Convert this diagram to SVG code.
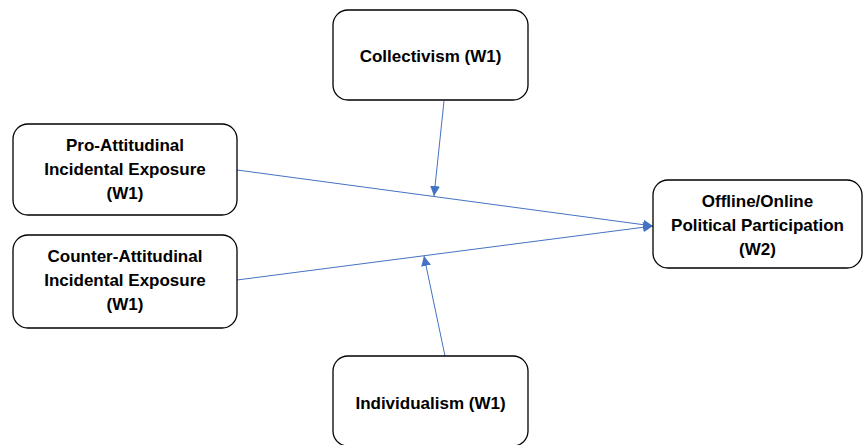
<svg xmlns="http://www.w3.org/2000/svg" width="865" height="445" viewBox="0 0 865 445">
<style>
.box{fill:#fff;stroke:#000;stroke-width:1.3}
.t{font-family:"Liberation Sans",Arial,sans-serif;font-weight:bold;font-size:17px;fill:#000;text-anchor:middle}
.c{stroke:#4472C4;stroke-width:1;fill:none;marker-end:url(#ah)}
</style>
<defs>
<marker id="ah" viewBox="0 0 10 10" refX="10" refY="5" markerWidth="10" markerHeight="10" markerUnits="userSpaceOnUse" orient="auto">
<path d="M0,0 L10,5 L0,10 z" fill="#4472C4"/>
</marker>
</defs>
<rect width="865" height="445" fill="#fff"/>
<g id="connectors">
<line class="c" x1="237" y1="170" x2="653" y2="226"/>
<line class="c" x1="237" y1="280" x2="653" y2="226"/>
<line class="c" x1="444" y1="101" x2="434" y2="196"/>
<line class="c" x1="445" y1="356" x2="424" y2="256"/>
</g>
<g id="collectivism">
<rect class="box" x="333" y="10" width="195" height="90" rx="15"/>
<text class="t" x="430.5" y="62">Collectivism (W1)</text>
</g>
<g id="pro">
<rect class="box" x="13" y="124" width="224" height="91" rx="15"/>
<text class="t" x="125" y="151">Pro-Attitudinal</text>
<text class="t" x="125" y="175">Incidental Exposure</text>
<text class="t" x="125" y="199">(W1)</text>
</g>
<g id="counter">
<rect class="box" x="13" y="235" width="224" height="93" rx="15"/>
<text class="t" x="125" y="262">Counter-Attitudinal</text>
<text class="t" x="125" y="286">Incidental Exposure</text>
<text class="t" x="125" y="310">(W1)</text>
</g>
<g id="outcome">
<rect class="box" x="653" y="180" width="209" height="88" rx="15"/>
<text class="t" x="757.5" y="207">Offline/Online</text>
<text class="t" x="757.5" y="231">Political Participation</text>
<text class="t" x="757.5" y="255">(W2)</text>
</g>
<g id="individualism">
<rect class="box" x="333" y="356" width="195" height="90" rx="15"/>
<text class="t" x="430.5" y="409">Individualism (W1)</text>
</g>
</svg>
